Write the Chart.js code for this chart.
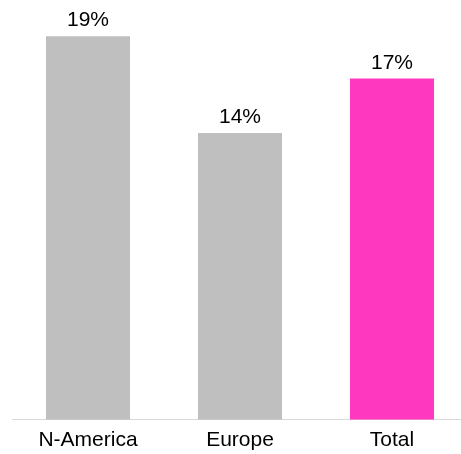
<!DOCTYPE html>
<html>
<head>
<meta charset="utf-8">
<script src="https://cdn.jsdelivr.net/npm/chart.js@4"></script>
<style>
  html, body { margin: 0; padding: 0; overflow: hidden; background: #fff; }
  #wrap { width: 470px; height: 463px; }
</style>
</head>
<body>
<div id="wrap"><canvas id="my-chart"></canvas></div>
<script>
const categories = ['N-America', 'Europe', 'Total'];
const shares = [19, 14.2, 16.9];
const barColors = ['#BFBFBF', '#BFBFBF', '#FF38C0'];

// prints the rounded percentage on top of each bar
const valueLabels = {
    id: 'valueLabels',
    afterDatasetsDraw(chart) {
        const ctx = chart.ctx;
        const meta = chart.getDatasetMeta(0);
        ctx.save();
        ctx.font = '21px "Liberation Sans", Arial, sans-serif';
        ctx.fillStyle = '#000';
        ctx.textAlign = 'center';
        ctx.textBaseline = 'alphabetic';
        meta.data.forEach((bar, i) => {
            ctx.fillText(Math.round(shares[i]) + '%', bar.x, bar.y - 10);
        });
        ctx.restore();
    }
};

document.addEventListener('DOMContentLoaded', () => {
    const ctx = document.getElementById('my-chart').getContext('2d');
    new Chart(ctx, {
        type: 'bar',
        data: {
            labels: categories,
            datasets: [{
                data: shares,
                backgroundColor: barColors,
                borderWidth: 0,
                barPercentage: 1,
                categoryPercentage: 0.553
            }]
        },
        options: {
            responsive: true,
            maintainAspectRatio: false,
            animation: false,
            layout: {
                padding: { top: 16, left: 12, right: 2, bottom: 2 }
            },
            scales: {
                x: {
                    grid: { display: false, drawTicks: false },
                    border: { display: true, color: '#D9D9D9', width: 1 },
                    ticks: {
                        color: '#000',
                        padding: 8,
                        font: { family: '"Liberation Sans", Arial, sans-serif', size: 21 }
                    }
                },
                y: {
                    display: false,
                    min: 0,
                    max: 20
                }
            },
            plugins: {
                legend: { display: false },
                tooltip: { enabled: false }
            }
        },
        plugins: [valueLabels]
    });
});
</script>
</body>
</html>
